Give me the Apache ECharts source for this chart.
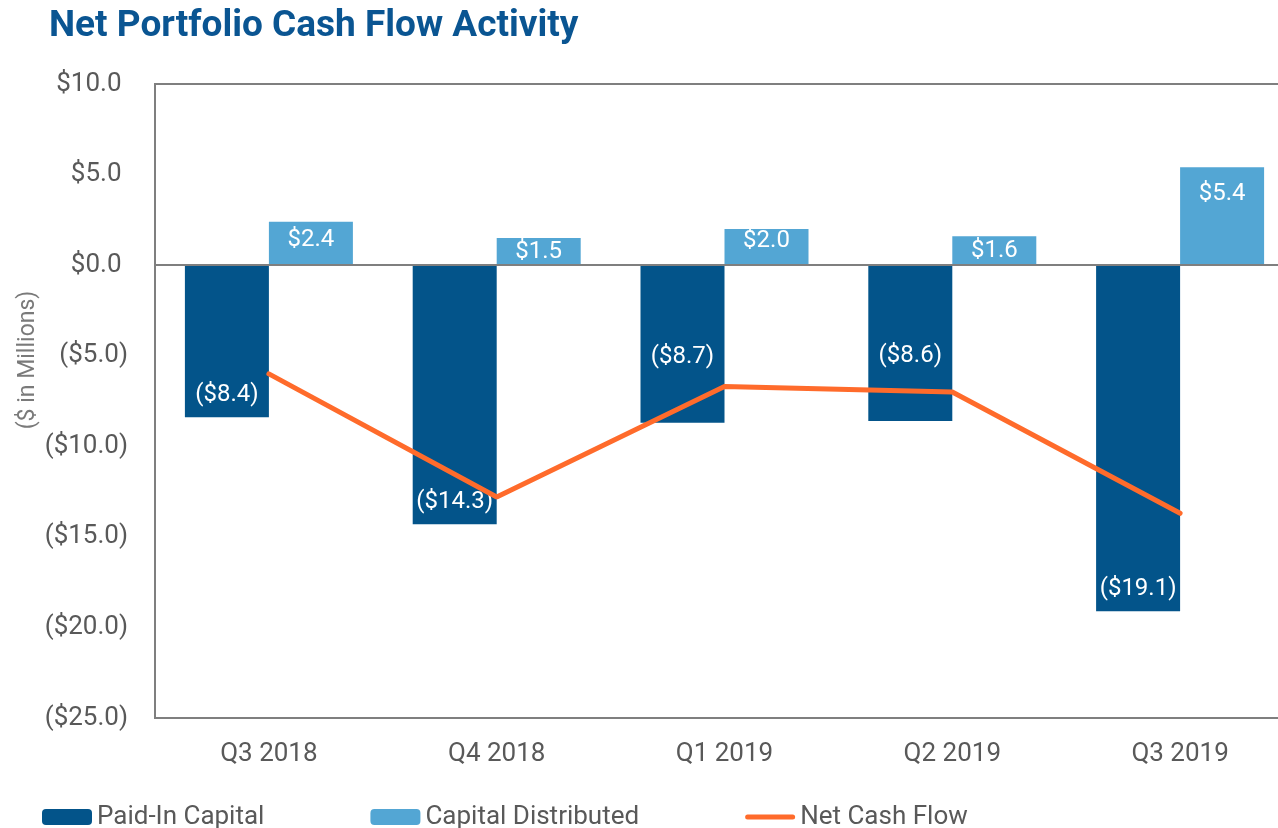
<!DOCTYPE html>
<html>
<head>
<meta charset="utf-8">
<script src="https://cdn.jsdelivr.net/npm/echarts@6/dist/echarts.min.js"></script>
<style>
  html, body { margin: 0; padding: 0; background: #fff; overflow: hidden; }
  /* the plot runs a little past the right edge of the window, as in the reference */
  #main { width: 1295px; height: 828px; }
</style>
</head>
<body>
<div id="main"></div>
<script>
var categories = ['Q3 2018', 'Q4 2018', 'Q1 2019', 'Q2 2019', 'Q3 2019'];
var paidIn = [-8.4, -14.3, -8.7, -8.6, -19.1];
var distributed = [2.4, 1.5, 2.0, 1.6, 5.4];
var netFlow = [-6.0, -12.8, -6.7, -7.0, -13.7];

// where each bar label sits (the reference moves a few of them around)
var paidInLabelPos = ['insideBottom', 'insideBottom', 'inside', 'inside', 'insideBottom'];
var paidInLabelOff = [[0, 0], [0, 0], [0, 13], [0, 13], [0, 0]];
var distLabelPos = ['inside', 'inside', 'inside', 'inside', 'insideTop'];
var distLabelOff = [[0, -3], [0, 0], [0, -6], [0, 0], [0, 3]];

var DARK = '#03548A';
var LIGHT = '#53A6D4';
var ORANGE = '#FF6B2B';
var FONT = 'Roboto';

function money(v) {
    if (v < 0) return '($' + Math.abs(v).toFixed(1) + ')';
    return '$' + v.toFixed(1);
}

var myChart = echarts.init(document.getElementById('main'));

var option = {
    animation: false,
    textStyle: { fontFamily: FONT },
    title: {
        text: 'Net Portfolio Cash Flow Activity',
        left: 44,
        top: 3,
        textStyle: {
            fontFamily: FONT,
            fontSize: 37,
            fontWeight: 'bold',
            color: '#0A5592'
        }
    },
    legend: {
        left: 42,
        top: 804,
        padding: 0,
        itemWidth: 50,
        itemHeight: 16,
        itemGap: 106,
        textStyle: { fontFamily: FONT, fontSize: 26, color: '#595959' },
        data: [
            'Paid-In Capital',
            'Capital Distributed',
            { name: 'Net Cash Flow', icon: 'path://M2.5,0 L47.5,0 A2.5,2.5 0 0 1 47.5,5 L2.5,5 A2.5,2.5 0 0 1 2.5,0 Z' }
        ]
    },
    graphic: [{
        type: 'text',
        x: 28,
        y: 360,
        rotation: Math.PI / 2,
        style: {
            text: '($ in Millions)',
            fontFamily: FONT,
            fontSize: 23,
            fill: '#7A7A7A',
            align: 'center',
            verticalAlign: 'middle'
        }
    }],
    grid: {
        show: true,
        left: 155,
        top: 84,
        right: 1,
        bottom: 110,
        borderColor: '#7F7F7F',
        borderWidth: 2
    },
    xAxis: {
        type: 'category',
        data: categories,
        axisLine: { show: false, onZero: false },
        axisTick: { show: false },
        axisLabel: { fontFamily: FONT, fontSize: 26, color: '#595959', margin: 23 }
    },
    yAxis: {
        type: 'value',
        min: -25,
        max: 10,
        interval: 5,
        axisLine: { show: false },
        axisTick: { show: false },
        splitLine: { show: false },
        axisLabel: {
            fontFamily: FONT,
            fontSize: 26,
            color: '#595959',
            margin: 27,
            formatter: function (v) { return v < 0 ? money(v) : money(v) + ' '; }
        }
    },
    series: [
        {
            name: 'Paid-In Capital',
            type: 'bar',
            barWidth: 84,
            barGap: '0%',
            itemStyle: { color: DARK },
            label: {
                show: true,
                color: '#fff',
                fontFamily: FONT,
                fontSize: 24,
                distance: 10,
                formatter: function (p) { return money(p.value); }
            },
            data: paidIn.map(function (v, i) {
                return { value: v, label: { position: paidInLabelPos[i], offset: paidInLabelOff[i] } };
            }),
            markLine: {
                silent: true,
                symbol: 'none',
                label: { show: false },
                lineStyle: { color: '#7F7F7F', width: 2, type: 'solid' },
                data: [{ yAxis: 0 }]
            }
        },
        {
            name: 'Capital Distributed',
            type: 'bar',
            barWidth: 84,
            barGap: '0%',
            itemStyle: { color: LIGHT },
            label: {
                show: true,
                color: '#fff',
                fontFamily: FONT,
                fontSize: 24,
                distance: 12,
                formatter: function (p) { return money(p.value); }
            },
            data: distributed.map(function (v, i) {
                return { value: v, label: { position: distLabelPos[i], offset: distLabelOff[i] } };
            })
        },
        {
            name: 'Net Cash Flow',
            type: 'line',
            symbol: 'none',
            z: 5,
            lineStyle: { color: ORANGE, width: 5, cap: 'round' },
            itemStyle: { color: ORANGE },
            data: netFlow
        }
    ]
};

myChart.setOption(option, true);
</script>
</body>
</html>
